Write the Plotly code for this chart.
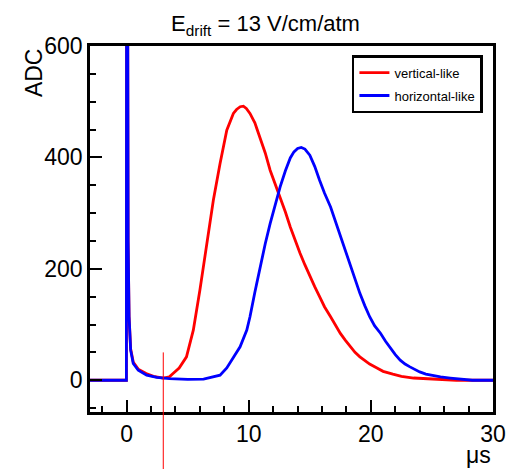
import plotly.graph_objects as go

# ---- data ----
red_x = [-3, -0.02, 0.02, 0.12, 0.2, 0.33, 0.55, 0.95, 1.6, 2.2, 3.0, 3.5, 3.8, 4.3, 4.9,
         5.46, 6.0, 6.56, 7.1, 7.65, 8.2, 8.74, 9.0, 9.3, 9.56, 9.8, 10.1, 10.5, 10.9, 11.35,
         11.75, 12.15, 12.57, 13.0, 13.4, 13.8, 14.2, 14.6, 15.0, 15.4, 15.8, 16.2, 16.7,
         17.1, 17.5, 17.9, 18.3, 18.7, 19.1, 19.5, 19.9, 20.5, 21.0, 21.8, 22.5, 23.5, 24.5,
         25.5, 27.0, 30.0]
red_y = [0, 0, 1500, 250, 114, 56, 32, 20, 12, 7, 4, 6, 12, 22, 42,
         90, 162, 240, 323, 389, 449, 479, 486, 491, 492, 488, 479, 462, 437, 408,
         377, 353, 329, 302, 275, 251, 228, 207, 186, 168, 150, 132, 114,
         98, 84, 72, 60, 50, 42, 35, 29, 22, 16, 11, 7, 4, 2.5,
         1, 0, 0]

blue_x = [-3, -0.02, 0.02, 0.12, 0.2, 0.33, 0.54, 0.95, 1.64, 2.46, 3.5, 5.0, 6.3, 7.0, 7.65,
          8.2, 8.74, 9.29, 9.84, 10.1, 10.5, 10.9, 11.35, 11.75, 12.15, 12.57, 13.0, 13.4,
          13.7, 14.0, 14.3, 14.6, 15.0, 15.4, 15.8, 16.2, 16.7, 17.1, 17.5, 17.9, 18.3, 18.7,
          19.1, 19.5, 19.9, 20.3, 20.8, 21.2, 21.6, 22.0, 22.4, 22.8, 23.2, 23.6, 24.0, 24.5,
          24.9, 25.7, 26.5, 27.2, 27.9, 28.3, 30.0]
blue_y = [0, 0, 1500, 250, 114, 54, 30, 18, 9, 5, 3, 1.5, 2, 5, 9,
          22, 42, 60, 90, 114, 158, 202, 245, 281, 315, 347, 376, 399,
          410, 416, 418, 415, 404, 384, 359, 336, 311, 285, 257, 230, 204, 180,
          156, 134, 114, 98, 84, 70, 57, 46, 36, 29, 24, 19, 15, 11,
          9, 6, 4, 2, 1, 0, 0]

series_names = ["vertical-like", "horizontal-like"]
x_ticks = [0, 10, 20, 30]
y_ticks = [0, 200, 400, 600]
x_range = [-3, 30]
y_range = [-57, 600]
marker_x = 3.0      # thin red vertical marker
marker_top = 50     # ADC value where the marker starts

FONT = "Liberation Sans, Arial, sans-serif"

fig = go.Figure()
fig.add_trace(go.Scatter(x=red_x, y=red_y, mode="lines", name=series_names[0],
                         legendgroup="a",
                         line=dict(color="#ff0000", width=2.8)))
fig.add_trace(go.Scatter(x=blue_x, y=blue_y, mode="lines", name=series_names[1],
                         legendgroup="b",
                         line=dict(color="#0000ff", width=2.8)))

y_frac = (marker_top - y_range[0]) / (y_range[1] - y_range[0])
fig.add_shape(type="line", xref="x", yref="paper", x0=marker_x, x1=marker_x,
              y0=-0.16, y1=y_frac, line=dict(color="#ff0000", width=1))

axis_common = dict(showgrid=False, zeroline=False, showline=True, mirror=True,
                   linecolor="black", linewidth=2.5, ticks="inside", tickwidth=2,
                   ticklen=12, tickcolor="black",
                   tickfont=dict(family=FONT, size=23, color="black"))

fig.update_xaxes(range=x_range, tickvals=x_ticks, ticktext=[str(v) for v in x_ticks],
                 minor=dict(ticks="inside", dtick=2, tick0=0, ticklen=6, tickwidth=2,
                            tickcolor="black"),
                 **axis_common)
fig.update_yaxes(range=y_range, tickvals=y_ticks, ticktext=[str(v) for v in y_ticks],
                 minor=dict(ticks="inside", dtick=50, tick0=0, ticklen=6, tickwidth=2,
                            tickcolor="black"),
                 **axis_common)

fig.add_annotation(text="ADC", xref="paper", yref="paper", x=-0.14, y=1.0,
                   xanchor="center", yanchor="top", textangle=-90, showarrow=False,
                   font=dict(family=FONT, size=23, color="black"))
fig.add_annotation(text="\u03bcs", xref="paper", yref="paper", x=1.0, y=-0.118,
                   xanchor="right", yanchor="middle", showarrow=False,
                   font=dict(family=FONT, size=23, color="black"))

fig.update_layout(
    width=531, height=469,
    margin=dict(l=90, r=38, t=46, b=57),
    paper_bgcolor="white", plot_bgcolor="white",
    title=dict(text="E<sub>drift</sub> = 13 V/cm/atm", x=0.5, xanchor="center",
               y=0.95, yanchor="middle",
               font=dict(family=FONT, size=22, color="black")),
    showlegend=True,
    legend=dict(x=0.975, y=0.975, xanchor="right", yanchor="top",
                bgcolor="white", bordercolor="black", borderwidth=2.5,
                font=dict(family=FONT, size=13, color="black"),
                tracegroupgap=3, itemwidth=30,
                entrywidth=97, entrywidthmode="pixels"),
)

fig.write_html("out.html")
